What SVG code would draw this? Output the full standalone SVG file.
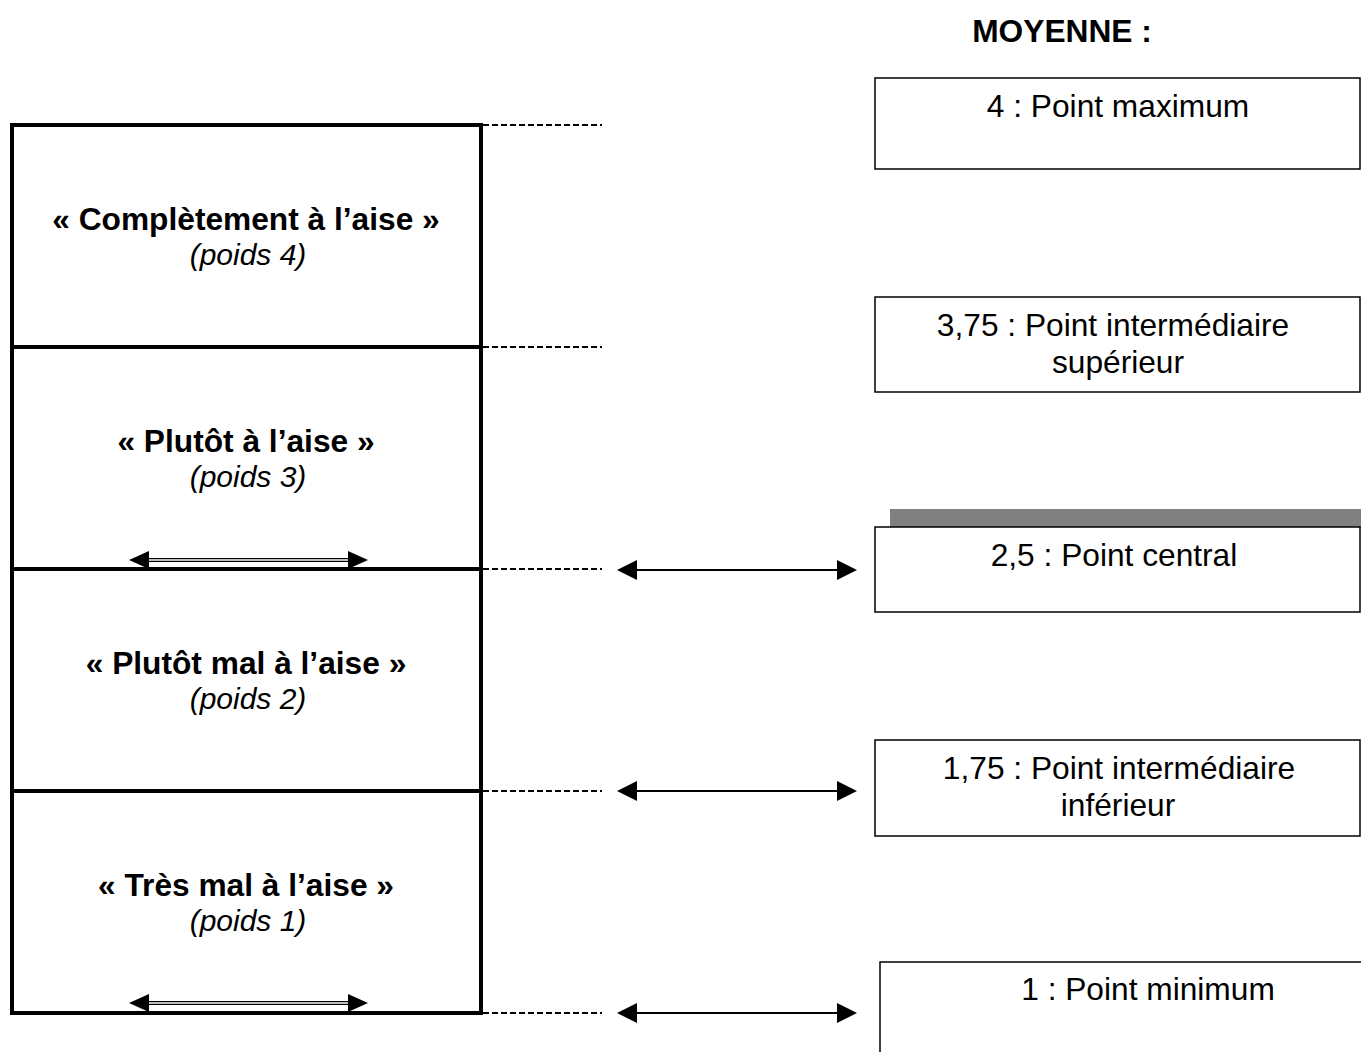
<svg xmlns="http://www.w3.org/2000/svg" width="1361" height="1052" viewBox="0 0 1361 1052">
<style>
.t{font-family:"Liberation Sans",Arial,sans-serif;font-size:31.7px;fill:#000;text-anchor:middle}
.b{font-weight:bold}
.i{font-style:italic;font-size:30px}
.box{fill:#fff;stroke:#000;stroke-width:1.5}
.dash{stroke:#000;stroke-width:2;stroke-dasharray:6 3;fill:none}
.ar{stroke:#000;stroke-width:2;fill:none}
.ah{fill:#000}
</style>
<rect width="1361" height="1052" fill="#fff"/>
<text class="t b" x="1062" y="42">MOYENNE :</text>

<g id="scale">
<rect x="12" y="125" width="469" height="888" fill="none" stroke="#000" stroke-width="4"/>
<line x1="12" y1="347" x2="481" y2="347" stroke="#000" stroke-width="4"/>
<line x1="12" y1="569" x2="481" y2="569" stroke="#000" stroke-width="4"/>
<line x1="12" y1="791" x2="481" y2="791" stroke="#000" stroke-width="4"/>
</g>
<g id="level4">
<text class="t b" x="246" y="230">« Complètement à l’aise »</text>
<text class="t i" x="248" y="265">(poids 4)</text>
</g>
<g id="level3">
<text class="t b" x="246" y="452">« Plutôt à l’aise »</text>
<text class="t i" x="248" y="487">(poids 3)</text>
</g>
<g id="level2">
<text class="t b" x="246" y="674">« Plutôt mal à l’aise »</text>
<text class="t i" x="248" y="709">(poids 2)</text>
</g>
<g id="level1">
<text class="t b" x="246" y="896">« Très mal à l’aise »</text>
<text class="t i" x="248" y="931">(poids 1)</text>
</g>

<g id="connectors">
<line class="dash" x1="483" y1="125" x2="602" y2="125"/>
<line class="dash" x1="483" y1="347" x2="602" y2="347"/>
<line class="dash" x1="483" y1="569" x2="602" y2="569"/>
<line class="dash" x1="483" y1="791" x2="602" y2="791"/>
<line class="dash" x1="483" y1="1013" x2="602" y2="1013"/>

<line x1="145" y1="560" x2="352" y2="560" stroke="#000" stroke-width="4"/>
<line x1="145" y1="560" x2="352" y2="560" stroke="#fff" stroke-width="1.5"/>
<polygon class="ah" points="129,560 149,551 149,569"/>
<polygon class="ah" points="368,560 348,551 348,569"/>

<line x1="145" y1="1003" x2="352" y2="1003" stroke="#000" stroke-width="4"/>
<line x1="145" y1="1003" x2="352" y2="1003" stroke="#fff" stroke-width="1.5"/>
<polygon class="ah" points="129,1003 149,994 149,1012"/>
<polygon class="ah" points="368,1003 348,994 348,1012"/>

<line class="ar" x1="630" y1="570" x2="845" y2="570"/>
<polygon class="ah" points="617,570 637,560 637,580"/>
<polygon class="ah" points="857,570 837,560 837,580"/>
<line class="ar" x1="630" y1="791" x2="845" y2="791"/>
<polygon class="ah" points="617,791 637,781 637,801"/>
<polygon class="ah" points="857,791 837,781 837,801"/>
<line class="ar" x1="630" y1="1013" x2="845" y2="1013"/>
<polygon class="ah" points="617,1013 637,1003 637,1023"/>
<polygon class="ah" points="857,1013 837,1003 837,1023"/>
</g>

<g id="max">
<rect class="box" x="875" y="78" width="485" height="91"/>
<text class="t" x="1118" y="117">4 : Point maximum</text>
</g>
<g id="sup">
<rect class="box" x="875" y="297" width="485" height="95"/>
<text class="t" x="1113" y="336">3,75 : Point intermédiaire</text>
<text class="t" x="1118" y="373">supérieur</text>
</g>
<g id="central">
<rect x="890" y="509" width="471" height="19" fill="#808080"/>
<rect class="box" x="875" y="527" width="485" height="85"/>
<text class="t" x="1114" y="566">2,5 : Point central</text>
</g>
<g id="inf">
<rect class="box" x="875" y="740" width="485" height="96"/>
<text class="t" x="1119" y="779">1,75 : Point intermédiaire</text>
<text class="t" x="1118" y="816">inférieur</text>
</g>
<g id="min">
<path d="M880,1052 V962 H1361" fill="none" stroke="#000" stroke-width="1.5"/>
<text class="t" x="1148" y="1000">1 : Point minimum</text>
</g>
</svg>
